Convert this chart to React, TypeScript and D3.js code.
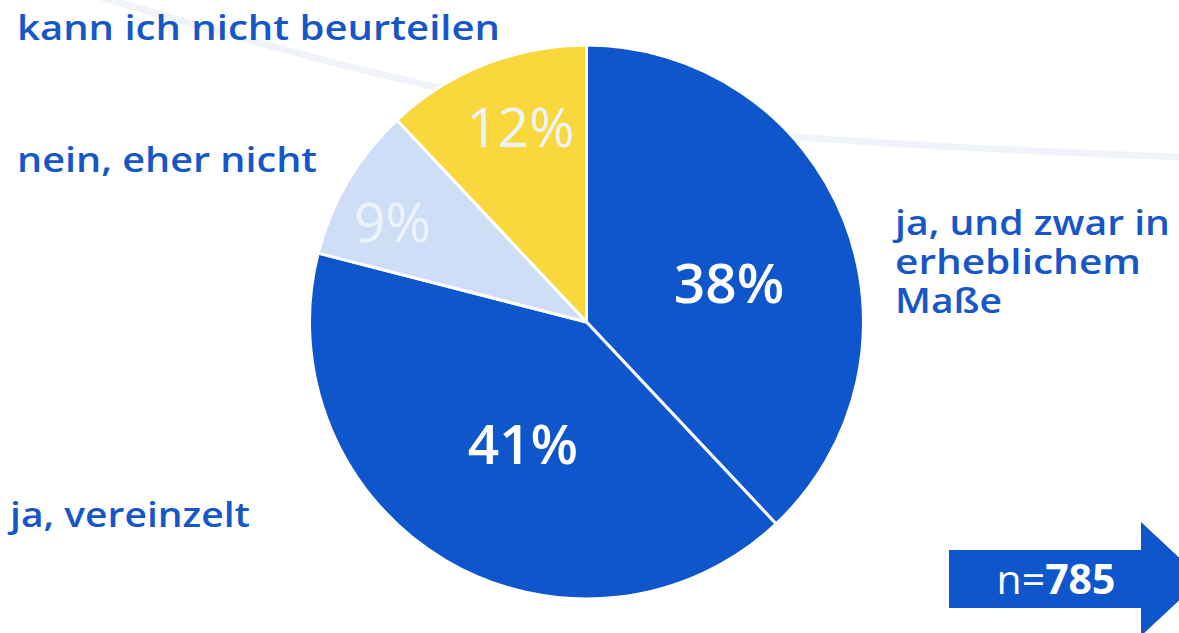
import { useEffect, useRef } from "react";
import * as d3 from "d3";

// slices, clockwise from 12 o'clock
const categories = ["ja, und zwar in erheblichem Maße", "ja, vereinzelt", "nein, eher nicht", "kann ich nicht beurteilen"];
const shares = [38, 41, 9, 12];
const sliceColors = ["#0f55cc", "#0f55cc", "#cfdef7", "#f9d83d"];
const pctColors = ["#ffffff", "#ffffff", "#eef3fb", "#eef3fb"];
const pctWeights = [600, 600, 500, 500];
const sampleSize = 785;

const W = 1179;
const H = 633;

const App = () => {
  const svgRef = useRef<SVGSVGElement>(null);

  useEffect(() => {
    const svg = d3.select(svgRef.current);
    svg.selectAll("*").remove();

    const cx = 586.5;
    const cy = 322;
    const R = 277;
    const font = "'Open Sans', 'DejaVu Sans', sans-serif";
    const labelBlue = "#1656c9";

    // faint background swoosh
    svg.append("path")
      .attr("d", d3.line().curve(d3.curveNatural)([[90, -6], [436, 87], [798, 137], [1179, 157], [1200, 158]]))
      .attr("fill", "none")
      .attr("stroke", "#f0f4fa")
      .attr("stroke-width", 7);

    const pie = d3.pie<number>().sort(null).value(d => d);
    const arcs = pie(shares);
    const arc = d3.arc<d3.PieArcDatum<number>>().innerRadius(0).outerRadius(R);
    const labelArc = d3.arc<d3.PieArcDatum<number>>().innerRadius(R * 0.6).outerRadius(R * 0.6);
    // nudges so the labels sit where the original puts them
    const nudge = [[-12, 23], [21, -20], [-51, -15], [-5, -40]];

    const g = svg.append("g").attr("transform", `translate(${cx},${cy})`);

    g.selectAll("path.slice")
      .data(arcs)
      .enter()
      .append("path")
      .attr("class", "slice")
      .attr("d", arc)
      .attr("fill", (d, i) => sliceColors[i])
      .attr("stroke", "#ffffff")
      .attr("stroke-width", 3)
      .attr("stroke-linejoin", "round");

    g.selectAll("text.pct")
      .data(arcs)
      .enter()
      .append("text")
      .attr("class", "pct")
      .attr("x", (d, i) => labelArc.centroid(d)[0] + nudge[i][0])
      .attr("y", (d, i) => labelArc.centroid(d)[1] + nudge[i][1])
      .attr("dy", "0.35em")
      .attr("text-anchor", "middle")
      .attr("font-family", font)
      .attr("font-size", 55)
      .attr("font-weight", (d, i) => pctWeights[i])
      .attr("fill", (d, i) => pctColors[i])
      .text(d => `${d.data}%`);

    // category labels, one text per line; widths taken from the original
    const catLabels = [
      { lines: ["ja, und zwar in", "erheblichem", "Maße"], widths: [275, 246, 107], x: 895, y: 235 },
      { lines: ["ja, vereinzelt"], widths: [240], x: 10, y: 527 },
      { lines: ["nein, eher nicht"], widths: [300], x: 17, y: 172 },
      { lines: ["kann ich nicht beurteilen"], widths: [483], x: 17, y: 40 },
    ];
    catLabels.forEach((c, i) => {
      const grp = svg.append("g").attr("aria-label", categories[i]);
      c.lines.forEach((ln, j) => {
        grp.append("text")
          .attr("x", c.x)
          .attr("y", c.y + j * 39)
          .attr("font-family", font)
          .attr("font-size", 34)
          .attr("font-weight", 600)
          .attr("fill", labelBlue)
          .attr("textLength", c.widths[j])
          .attr("lengthAdjust", "spacingAndGlyphs")
          .text(ln);
      });
    });

    // n arrow
    svg.append("path")
      .attr("d", "M949,550 L1141,550 L1141,522 L1202,579 L1141,636 L1141,608 L949,608 Z")
      .attr("fill", "#0f55cc");
    const n = svg.append("text")
      .attr("x", 1056)
      .attr("y", 594)
      .attr("text-anchor", "middle")
      .attr("font-family", font)
      .attr("font-size", 41)
      .attr("fill", "#ffffff");
    n.append("tspan").attr("font-weight", 400).text("n=");
    n.append("tspan").attr("font-weight", 700).text(String(sampleSize));
  }, []);

  return (
    <svg
      ref={svgRef}
      width={W}
      height={H}
      style={{ position: "absolute", left: 0, top: 0, background: "#ffffff" }}
    />
  );
};

export default App;
